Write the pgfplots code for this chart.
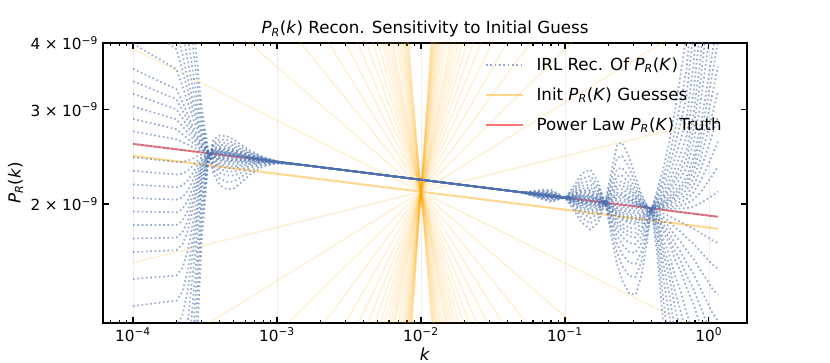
\documentclass[border=0pt]{standalone}
\usepackage{fontspec}
\setmainfont{DejaVu Sans}
\usepackage{pgfplots}
\usepackage{pgfplotstable}
\pgfplotsset{compat=1.18}

\definecolor{recblue}{RGB}{76,114,176}
\definecolor{guessorange}{RGB}{255,165,0}
\definecolor{truthred}{RGB}{255,60,60}

\newcommand{\PRk}[1]{\textit{P}\textsubscript{\textit{R}}(\textit{#1})}
\newcommand{\tenm}[1]{#1\hspace{0.3em}×\hspace{0.3em}10\textsuperscript{−9}}

\pgfplotsset{
  guess/.style={guessorange, opacity=0.16, line width=1.1pt, forget plot},
  recon/.style={recblue, opacity=0.6, line width=1.2pt, dash pattern=on 1.2pt off 1.9pt},
  truth/.style={truthred, opacity=0.7, line width=1.4pt},
}

% IRL reconstructions, one column per initial guess (n = truth + m/10)
\pgfplotstableread{
k n32 n25 n19 n15 n12 n10 n8 n6 n5 n4 n3 n2 n1 z0 p1 p2 p3 p4 p5 p6 p7 p8 p10 p12 p14 p17 p21 p26 p32 p40
1e-4 5e-9 5e-9 5e-9 5e-9 4.95e-9 4.44e-9 3.987e-9 3.58e-9 3.392e-9 3.214e-9 3.045e-9 2.885e-9 2.734e-9 2.59e-9 2.444e-9 2.306e-9 2.175e-9 2.052e-9 1.937e-9 1.827e-9 1.724e-9 1.626e-9 1.448e-9 1.289e-9 1.147e-9 0.96e-9 8e-10 8e-10 8e-10 8e-10
2e-4 5e-9 5e-9 5e-9 4.831e-9 4.245e-9 3.896e-9 3.574e-9 3.278e-9 3.14e-9 3.007e-9 2.88e-9 2.759e-9 2.642e-9 2.531e-9 2.397e-9 2.27e-9 2.15e-9 2.037e-9 1.929e-9 1.827e-9 1.73e-9 1.639e-9 1.47e-9 1.319e-9 1.183e-9 1.005e-9 0.809e-9 8e-10 8e-10 8e-10
2.2e-4 5e-9 5e-9 4.856e-9 4.23e-9 3.816e-9 3.561e-9 3.323e-9 3.102e-9 2.997e-9 2.895e-9 2.797e-9 2.702e-9 2.611e-9 2.522e-9 2.397e-9 2.278e-9 2.165e-9 2.058e-9 1.956e-9 1.859e-9 1.767e-9 1.679e-9 1.517e-9 1.37e-9 1.238e-9 1.062e-9 0.867e-9 8e-10 8e-10 8e-10
2.4e-4 5e-9 4.802e-9 4.112e-9 3.709e-9 3.432e-9 3.259e-9 3.094e-9 2.938e-9 2.863e-9 2.79e-9 2.719e-9 2.649e-9 2.582e-9 2.516e-9 2.41e-9 2.308e-9 2.211e-9 2.117e-9 2.028e-9 1.942e-9 1.86e-9 1.782e-9 1.635e-9 1.5e-9 1.376e-9 1.209e-9 1.017e-9 0.82e-9 8e-10 8e-10
2.6e-4 4.476e-9 3.945e-9 3.538e-9 3.291e-9 3.117e-9 3.006e-9 2.899e-9 2.796e-9 2.746e-9 2.697e-9 2.648e-9 2.601e-9 2.554e-9 2.508e-9 2.431e-9 2.357e-9 2.285e-9 2.215e-9 2.148e-9 2.082e-9 2.018e-9 1.957e-9 1.839e-9 1.728e-9 1.624e-9 1.479e-9 1.307e-9 1.119e-9 0.929e-9 8e-10
2.8e-4 3.633e-9 3.348e-9 3.122e-9 2.98e-9 2.878e-9 2.812e-9 2.747e-9 2.684e-9 2.653e-9 2.622e-9 2.592e-9 2.562e-9 2.532e-9 2.503e-9 2.455e-9 2.408e-9 2.361e-9 2.316e-9 2.271e-9 2.228e-9 2.185e-9 2.143e-9 2.061e-9 1.983e-9 1.908e-9 1.8e-9 1.665e-9 1.511e-9 1.345e-9 1.152e-9
3e-4 3.028e-9 2.903e-9 2.8e-9 2.733e-9 2.684e-9 2.652e-9 2.62e-9 2.588e-9 2.573e-9 2.557e-9 2.542e-9 2.527e-9 2.511e-9 2.496e-9 2.473e-9 2.449e-9 2.426e-9 2.403e-9 2.381e-9 2.358e-9 2.336e-9 2.314e-9 2.27e-9 2.228e-9 2.186e-9 2.125e-9 2.045e-9 1.951e-9 1.843e-9 1.708e-9
3.3e-4 2.558e-9 2.542e-9 2.53e-9 2.521e-9 2.515e-9 2.51e-9 2.506e-9 2.502e-9 2.5e-9 2.498e-9 2.495e-9 2.493e-9 2.491e-9 2.489e-9 2.485e-9 2.481e-9 2.476e-9 2.472e-9 2.468e-9 2.464e-9 2.459e-9 2.455e-9 2.447e-9 2.438e-9 2.43e-9 2.417e-9 2.4e-9 2.38e-9 2.355e-9 2.323e-9
3.6e-4 2.284e-9 2.326e-9 2.362e-9 2.387e-9 2.405e-9 2.418e-9 2.43e-9 2.444e-9 2.449e-9 2.456e-9 2.462e-9 2.468e-9 2.475e-9 2.481e-9 2.485e-9 2.489e-9 2.492e-9 2.496e-9 2.5e-9 2.504e-9 2.507e-9 2.511e-9 2.519e-9 2.527e-9 2.534e-9 2.546e-9 2.561e-9 2.581e-9 2.604e-9 2.636e-9
4e-4 2.169e-9 2.232e-9 2.288e-9 2.325e-9 2.354e-9 2.373e-9 2.393e-9 2.413e-9 2.423e-9 2.432e-9 2.442e-9 2.452e-9 2.463e-9 2.473e-9 2.478e-9 2.483e-9 2.488e-9 2.493e-9 2.498e-9 2.503e-9 2.508e-9 2.514e-9 2.524e-9 2.535e-9 2.545e-9 2.561e-9 2.583e-9 2.609e-9 2.642e-9 2.686e-9
4.5e-4 2.131e-9 2.199e-9 2.26e-9 2.301e-9 2.333e-9 2.354e-9 2.376e-9 2.397e-9 2.408e-9 2.419e-9 2.43e-9 2.441e-9 2.452e-9 2.463e-9 2.468e-9 2.473e-9 2.478e-9 2.484e-9 2.489e-9 2.494e-9 2.499e-9 2.504e-9 2.515e-9 2.525e-9 2.536e-9 2.551e-9 2.572e-9 2.599e-9 2.632e-9 2.676e-9
5e-4 2.137e-9 2.203e-9 2.261e-9 2.3e-9 2.33e-9 2.35e-9 2.371e-9 2.391e-9 2.401e-9 2.412e-9 2.422e-9 2.432e-9 2.443e-9 2.453e-9 2.458e-9 2.462e-9 2.467e-9 2.471e-9 2.476e-9 2.48e-9 2.485e-9 2.489e-9 2.498e-9 2.507e-9 2.516e-9 2.53e-9 2.549e-9 2.572e-9 2.6e-9 2.638e-9
5.6e-4 2.19e-9 2.243e-9 2.29e-9 2.322e-9 2.346e-9 2.362e-9 2.378e-9 2.395e-9 2.403e-9 2.412e-9 2.42e-9 2.428e-9 2.437e-9 2.445e-9 2.448e-9 2.452e-9 2.455e-9 2.459e-9 2.462e-9 2.465e-9 2.469e-9 2.472e-9 2.479e-9 2.486e-9 2.493e-9 2.503e-9 2.517e-9 2.534e-9 2.555e-9 2.584e-9
6.5e-4 2.27e-9 2.305e-9 2.335e-9 2.355e-9 2.371e-9 2.38e-9 2.391e-9 2.401e-9 2.406e-9 2.412e-9 2.417e-9 2.422e-9 2.427e-9 2.432e-9 2.434e-9 2.437e-9 2.439e-9 2.441e-9 2.443e-9 2.445e-9 2.447e-9 2.449e-9 2.453e-9 2.458e-9 2.462e-9 2.468e-9 2.477e-9 2.488e-9 2.5e-9 2.518e-9
8e-4 2.35e-9 2.364e-9 2.377e-9 2.385e-9 2.391e-9 2.395e-9 2.399e-9 2.404e-9 2.406e-9 2.408e-9 2.41e-9 2.412e-9 2.414e-9 2.416e-9 2.417e-9 2.418e-9 2.418e-9 2.419e-9 2.42e-9 2.421e-9 2.422e-9 2.423e-9 2.424e-9 2.426e-9 2.428e-9 2.43e-9 2.433e-9 2.438e-9 2.443e-9 2.449e-9
1e-3 2.38e-9 2.384e-9 2.387e-9 2.389e-9 2.391e-9 2.392e-9 2.393e-9 2.394e-9 2.394e-9 2.395e-9 2.395e-9 2.396e-9 2.396e-9 2.397e-9 2.397e-9 2.398e-9 2.398e-9 2.398e-9 2.398e-9 2.398e-9 2.398e-9 2.399e-9 2.399e-9 2.4e-9 2.4e-9 2.401e-9 2.401e-9 2.402e-9 2.404e-9 2.405e-9
1.5e-3 2.366e-9 2.366e-9 2.366e-9 2.366e-9 2.366e-9 2.366e-9 2.366e-9 2.366e-9 2.366e-9 2.366e-9 2.366e-9 2.366e-9 2.366e-9 2.366e-9 2.366e-9 2.366e-9 2.366e-9 2.366e-9 2.366e-9 2.366e-9 2.366e-9 2.366e-9 2.366e-9 2.366e-9 2.366e-9 2.366e-9 2.366e-9 2.366e-9 2.366e-9 2.366e-9
0.05 2.103e-9 2.103e-9 2.103e-9 2.103e-9 2.103e-9 2.103e-9 2.103e-9 2.103e-9 2.103e-9 2.103e-9 2.103e-9 2.103e-9 2.103e-9 2.103e-9 2.103e-9 2.103e-9 2.103e-9 2.103e-9 2.103e-9 2.103e-9 2.103e-9 2.103e-9 2.103e-9 2.103e-9 2.103e-9 2.103e-9 2.103e-9 2.103e-9 2.103e-9 2.103e-9
0.07 2.126e-9 2.116e-9 2.107e-9 2.102e-9 2.097e-9 2.094e-9 2.092e-9 2.089e-9 2.087e-9 2.086e-9 2.084e-9 2.083e-9 2.081e-9 2.08e-9 2.079e-9 2.078e-9 2.077e-9 2.076e-9 2.075e-9 2.074e-9 2.072e-9 2.071e-9 2.069e-9 2.067e-9 2.065e-9 2.062e-9 2.058e-9 2.052e-9 2.046e-9 2.038e-9
0.08 2.125e-9 2.113e-9 2.103e-9 2.096e-9 2.091e-9 2.088e-9 2.085e-9 2.081e-9 2.079e-9 2.078e-9 2.076e-9 2.074e-9 2.073e-9 2.071e-9 2.07e-9 2.068e-9 2.067e-9 2.066e-9 2.064e-9 2.063e-9 2.062e-9 2.06e-9 2.058e-9 2.055e-9 2.052e-9 2.048e-9 2.043e-9 2.036e-9 2.028e-9 2.017e-9
0.1 2.055e-9 2.055e-9 2.055e-9 2.055e-9 2.055e-9 2.055e-9 2.055e-9 2.055e-9 2.055e-9 2.055e-9 2.055e-9 2.055e-9 2.055e-9 2.055e-9 2.055e-9 2.055e-9 2.055e-9 2.055e-9 2.055e-9 2.055e-9 2.055e-9 2.055e-9 2.055e-9 2.055e-9 2.055e-9 2.055e-9 2.055e-9 2.055e-9 2.055e-9 2.055e-9
0.115 1.95e-9 1.97e-9 1.988e-9 2e-9 2.009e-9 2.015e-9 2.021e-9 2.028e-9 2.031e-9 2.034e-9 2.037e-9 2.04e-9 2.043e-9 2.046e-9 2.049e-9 2.051e-9 2.054e-9 2.057e-9 2.059e-9 2.062e-9 2.065e-9 2.067e-9 2.072e-9 2.078e-9 2.083e-9 2.091e-9 2.102e-9 2.116e-9 2.132e-9 2.155e-9
0.13 1.85e-9 1.889e-9 1.924e-9 1.947e-9 1.965e-9 1.976e-9 1.988e-9 2e-9 2.006e-9 2.013e-9 2.019e-9 2.025e-9 2.031e-9 2.037e-9 2.043e-9 2.048e-9 2.054e-9 2.06e-9 2.066e-9 2.072e-9 2.077e-9 2.083e-9 2.095e-9 2.107e-9 2.118e-9 2.136e-9 2.16e-9 2.191e-9 2.228e-9 2.279e-9
0.15 1.79e-9 1.84e-9 1.883e-9 1.912e-9 1.935e-9 1.95e-9 1.965e-9 1.98e-9 1.988e-9 1.996e-9 2.004e-9 2.011e-9 2.019e-9 2.027e-9 2.034e-9 2.041e-9 2.048e-9 2.054e-9 2.061e-9 2.068e-9 2.075e-9 2.082e-9 2.096e-9 2.11e-9 2.125e-9 2.146e-9 2.175e-9 2.212e-9 2.257e-9 2.319e-9
0.17 1.846e-9 1.882e-9 1.914e-9 1.936e-9 1.952e-9 1.963e-9 1.974e-9 1.985e-9 1.991e-9 1.996e-9 2.002e-9 2.008e-9 2.013e-9 2.019e-9 2.023e-9 2.028e-9 2.032e-9 2.036e-9 2.041e-9 2.045e-9 2.05e-9 2.054e-9 2.063e-9 2.072e-9 2.081e-9 2.094e-9 2.112e-9 2.135e-9 2.163e-9 2.201e-9
0.19 2.011e-9 2.011e-9 2.011e-9 2.011e-9 2.011e-9 2.011e-9 2.011e-9 2.011e-9 2.011e-9 2.011e-9 2.011e-9 2.011e-9 2.011e-9 2.011e-9 2.011e-9 2.011e-9 2.011e-9 2.011e-9 2.011e-9 2.011e-9 2.011e-9 2.011e-9 2.011e-9 2.011e-9 2.011e-9 2.011e-9 2.011e-9 2.011e-9 2.011e-9 2.011e-9
0.21 2.301e-9 2.233e-9 2.176e-9 2.139e-9 2.111e-9 2.093e-9 2.075e-9 2.058e-9 2.049e-9 2.04e-9 2.031e-9 2.022e-9 2.014e-9 2.005e-9 1.998e-9 1.991e-9 1.984e-9 1.978e-9 1.971e-9 1.964e-9 1.957e-9 1.95e-9 1.937e-9 1.924e-9 1.91e-9 1.891e-9 1.865e-9 1.833e-9 1.795e-9 1.747e-9
0.23 2.58e-9 2.44e-9 2.326e-9 2.253e-9 2.2e-9 2.165e-9 2.131e-9 2.097e-9 2.08e-9 2.064e-9 2.047e-9 2.031e-9 2.015e-9 1.999e-9 1.986e-9 1.973e-9 1.961e-9 1.948e-9 1.935e-9 1.923e-9 1.911e-9 1.898e-9 1.874e-9 1.85e-9 1.826e-9 1.791e-9 1.745e-9 1.689e-9 1.625e-9 1.543e-9
0.25 2.605e-9 2.456e-9 2.336e-9 2.259e-9 2.203e-9 2.167e-9 2.131e-9 2.096e-9 2.078e-9 2.061e-9 2.044e-9 2.027e-9 2.01e-9 1.993e-9 1.977e-9 1.961e-9 1.945e-9 1.929e-9 1.913e-9 1.897e-9 1.882e-9 1.867e-9 1.836e-9 1.806e-9 1.777e-9 1.734e-9 1.678e-9 1.611e-9 1.533e-9 1.437e-9
0.28 2.442e-9 2.334e-9 2.245e-9 2.188e-9 2.146e-9 2.119e-9 2.091e-9 2.065e-9 2.051e-9 2.038e-9 2.025e-9 2.012e-9 1.999e-9 1.986e-9 1.967e-9 1.949e-9 1.93e-9 1.912e-9 1.894e-9 1.876e-9 1.858e-9 1.841e-9 1.806e-9 1.772e-9 1.739e-9 1.69e-9 1.627e-9 1.552e-9 1.466e-9 1.359e-9
0.31 2.241e-9 2.181e-9 2.13e-9 2.098e-9 2.073e-9 2.057e-9 2.041e-9 2.026e-9 2.018e-9 2.01e-9 2.002e-9 1.994e-9 1.987e-9 1.979e-9 1.96e-9 1.942e-9 1.923e-9 1.905e-9 1.887e-9 1.87e-9 1.852e-9 1.834e-9 1.8e-9 1.766e-9 1.733e-9 1.684e-9 1.621e-9 1.546e-9 1.461e-9 1.354e-9
0.34 2.085e-9 2.06e-9 2.039e-9 2.025e-9 2.014e-9 2.007e-9 2e-9 1.994e-9 1.99e-9 1.987e-9 1.983e-9 1.98e-9 1.976e-9 1.973e-9 1.959e-9 1.944e-9 1.93e-9 1.916e-9 1.902e-9 1.888e-9 1.874e-9 1.861e-9 1.834e-9 1.807e-9 1.781e-9 1.742e-9 1.692e-9 1.631e-9 1.561e-9 1.472e-9
0.37 1.994e-9 1.988e-9 1.983e-9 1.98e-9 1.977e-9 1.975e-9 1.974e-9 1.972e-9 1.971e-9 1.97e-9 1.97e-9 1.969e-9 1.968e-9 1.967e-9 1.959e-9 1.952e-9 1.944e-9 1.937e-9 1.929e-9 1.922e-9 1.914e-9 1.907e-9 1.892e-9 1.878e-9 1.863e-9 1.841e-9 1.813e-9 1.778e-9 1.737e-9 1.684e-9
0.4 1.935e-9 1.941e-9 1.946e-9 1.949e-9 1.952e-9 1.954e-9 1.955e-9 1.957e-9 1.958e-9 1.959e-9 1.959e-9 1.96e-9 1.961e-9 1.962e-9 1.962e-9 1.962e-9 1.962e-9 1.962e-9 1.962e-9 1.962e-9 1.962e-9 1.962e-9 1.962e-9 1.962e-9 1.962e-9 1.962e-9 1.962e-9 1.962e-9 1.962e-9 1.962e-9
0.44 1.59e-9 1.664e-9 1.73e-9 1.775e-9 1.81e-9 1.834e-9 1.857e-9 1.882e-9 1.894e-9 1.906e-9 1.918e-9 1.931e-9 1.943e-9 1.956e-9 1.96e-9 1.964e-9 1.969e-9 1.973e-9 1.977e-9 1.981e-9 1.986e-9 1.99e-9 1.999e-9 2.007e-9 2.016e-9 2.029e-9 2.047e-9 2.069e-9 2.096e-9 2.132e-9
0.48 1.203e-9 1.338e-9 1.464e-9 1.555e-9 1.627e-9 1.677e-9 1.728e-9 1.781e-9 1.808e-9 1.836e-9 1.864e-9 1.892e-9 1.921e-9 1.95e-9 1.958e-9 1.967e-9 1.975e-9 1.984e-9 1.993e-9 2.001e-9 2.01e-9 2.018e-9 2.036e-9 2.053e-9 2.071e-9 2.098e-9 2.135e-9 2.181e-9 2.238e-9 2.317e-9
0.53 0.911e-9 1.074e-9 1.239e-9 1.362e-9 1.463e-9 1.534e-9 1.608e-9 1.686e-9 1.727e-9 1.768e-9 1.811e-9 1.854e-9 1.898e-9 1.944e-9 1.958e-9 1.973e-9 1.987e-9 2.002e-9 2.017e-9 2.031e-9 2.046e-9 2.061e-9 2.092e-9 2.123e-9 2.154e-9 2.202e-9 2.267e-9 2.352e-9 2.458e-9 2.606e-9
0.58 8e-10 0.818e-9 1.007e-9 1.155e-9 1.281e-9 1.373e-9 1.471e-9 1.576e-9 1.631e-9 1.688e-9 1.748e-9 1.809e-9 1.872e-9 1.938e-9 1.959e-9 1.98e-9 2.002e-9 2.023e-9 2.045e-9 2.067e-9 2.09e-9 2.113e-9 2.159e-9 2.206e-9 2.254e-9 2.327e-9 2.43e-9 2.565e-9 2.736e-9 2.983e-9
0.64 8e-10 8e-10 0.851e-9 1.012e-9 1.151e-9 1.255e-9 1.368e-9 1.491e-9 1.557e-9 1.625e-9 1.697e-9 1.772e-9 1.85e-9 1.931e-9 1.962e-9 1.99e-9 2.02e-9 2.051e-9 2.082e-9 2.114e-9 2.146e-9 2.179e-9 2.245e-9 2.314e-9 2.385e-9 2.495e-9 2.651e-9 2.859e-9 3.129e-9 3.53e-9
0.7 8e-10 8e-10 8e-10 0.858e-9 1.009e-9 1.124e-9 1.251e-9 1.394e-9 1.471e-9 1.552e-9 1.638e-9 1.729e-9 1.825e-9 1.926e-9 1.964e-9 2.002e-9 2.041e-9 2.081e-9 2.122e-9 2.164e-9 2.206e-9 2.249e-9 2.338e-9 2.431e-9 2.527e-9 2.678e-9 2.894e-9 3.189e-9 3.581e-9 4.185e-9
0.78 8e-10 8e-10 8e-10 8e-10 0.883e-9 1.005e-9 1.144e-9 1.302e-9 1.389e-9 1.482e-9 1.581e-9 1.686e-9 1.799e-9 1.919e-9 1.978e-9 2.038e-9 2.101e-9 2.165e-9 2.232e-9 2.3e-9 2.37e-9 2.443e-9 2.595e-9 2.756e-9 2.927e-9 3.205e-9 3.616e-9 4.203e-9 5e-9 5e-9
0.86 8e-10 8e-10 8e-10 8e-10 8e-10 0.88e-9 1.027e-9 1.2e-9 1.297e-9 1.402e-9 1.515e-9 1.637e-9 1.769e-9 1.912e-9 2.001e-9 2.093e-9 2.19e-9 2.291e-9 2.397e-9 2.508e-9 2.625e-9 2.746e-9 3.006e-9 3.291e-9 3.604e-9 4.126e-9 4.948e-9 5e-9 5e-9 5e-9
0.95 8e-10 8e-10 8e-10 8e-10 8e-10 8e-10 0.924e-9 1.107e-9 1.212e-9 1.327e-9 1.453e-9 1.59e-9 1.741e-9 1.906e-9 2.033e-9 2.169e-9 2.314e-9 2.469e-9 2.633e-9 2.809e-9 2.997e-9 3.197e-9 3.638e-9 4.141e-9 4.712e-9 5e-9 5e-9 5e-9 5e-9 5e-9
1.05 8e-10 8e-10 8e-10 8e-10 8e-10 8e-10 0.83e-9 1.021e-9 1.132e-9 1.255e-9 1.392e-9 1.544e-9 1.712e-9 1.899e-9 2.07e-9 2.256e-9 2.459e-9 2.681e-9 2.922e-9 3.185e-9 3.472e-9 3.784e-9 4.497e-9 5e-9 5e-9 5e-9 5e-9 5e-9 5e-9 5e-9
1.155 8e-10 8e-10 8e-10 8e-10 8e-10 8e-10 8e-10 0.966e-9 1.081e-9 1.209e-9 1.353e-9 1.513e-9 1.692e-9 1.893e-9 2.108e-9 2.348e-9 2.616e-9 2.913e-9 3.245e-9 3.614e-9 4.025e-9 4.484e-9 5e-9 5e-9 5e-9 5e-9 5e-9 5e-9 5e-9 5e-9
}\recon

\begin{document}
\begin{tikzpicture}
\path[use as bounding box] (-74.2pt,-28.8pt) rectangle (523.4pt,232.5pt);
\begin{axis}[
  at={(0pt,0pt)}, anchor=south west,
  scale only axis, width=463.6pt, height=201.6pt,
  xmode=log, ymode=log,
  xmin=6.19e-5, xmax=1.837,
  ymin=1.198e-9, ymax=4e-9,
  xtick={1e-4,1e-3,1e-2,1e-1,1},
  xticklabels={10\textsuperscript{−4},10\textsuperscript{−3},10\textsuperscript{−2},10\textsuperscript{−1},10\textsuperscript{0}},
  minor xtick={7e-5,8e-5,9e-5,2e-4,3e-4,4e-4,5e-4,6e-4,7e-4,8e-4,9e-4,2e-3,3e-3,4e-3,5e-3,6e-3,7e-3,8e-3,9e-3,0.02,0.03,0.04,0.05,0.06,0.07,0.08,0.09,0.2,0.3,0.4,0.5,0.6,0.7,0.8,0.9},
  ytick={2e-9,3e-9,4e-9},
  yticklabels={\tenm{2},\tenm{3},\tenm{4}},
  yminorticks=false,
  tick align=inside,
  major tick length=4pt, minor tick length=2.2pt,
  every tick/.style={black, line width=0.8pt},
  axis line style={black, line width=1.2pt},
  xmajorgrids, grid style={black!7, line width=0.6pt},
  ticklabel style={font=\fontsize{11}{13}\selectfont},
  title={\PRk{k} Recon. Sensitivity to Initial Guess},
  title style={font=\fontsize{12}{14}\selectfont, at={(0.5,1.003)}, anchor=base, yshift=0pt},
  xlabel={\textit{k}},
  xlabel style={font=\fontsize{12}{14}\selectfont, at={(0.5,-0.134)}, anchor=base},
  ylabel={\PRk{k}},
  ylabel style={font=\fontsize{12}{14}\selectfont, at={(-0.136,0.5)}, anchor=center},
  legend style={at={(0.593,0.964)}, anchor=north west, draw=none, fill=none,
    font=\fontsize{12}{14}\selectfont, row sep=5pt, inner sep=0pt, nodes={inner sep=3pt},
    /tikz/every odd column/.append style={column sep=6pt}},
  legend cell align=left,
  legend image code/.code={\draw[#1] (0pt,0pt) -- (26.6pt,0pt);},
]
% initial guesses: power laws through the pivot, slope steps of 0.1
\addplot[guess] coordinates {(7.656e-3,5e-9)(1.349e-2,8e-10)};
\addplot[guess] coordinates {(7.522e-3,5e-9)(1.376e-2,8e-10)};
\addplot[guess] coordinates {(7.373e-3,5e-9)(1.408e-2,8e-10)};
\addplot[guess] coordinates {(7.204e-3,5e-9)(1.445e-2,8e-10)};
\addplot[guess] coordinates {(7.012e-3,5e-9)(1.489e-2,8e-10)};
\addplot[guess] coordinates {(6.793e-3,5e-9)(1.543e-2,8e-10)};
\addplot[guess] coordinates {(6.54e-3,5e-9)(1.61e-2,8e-10)};
\addplot[guess] coordinates {(6.243e-3,5e-9)(1.696e-2,8e-10)};
\addplot[guess] coordinates {(5.894e-3,5e-9)(1.81e-2,8e-10)};
\addplot[guess] coordinates {(5.475e-3,5e-9)(1.966e-2,8e-10)};
\addplot[guess] coordinates {(5.233e-3,5e-9)(2.068e-2,8e-10)};
\addplot[guess] coordinates {(4.965e-3,5e-9)(2.194e-2,8e-10)};
\addplot[guess] coordinates {(4.667e-3,5e-9)(2.351e-2,8e-10)};
\addplot[guess] coordinates {(4.336e-3,5e-9)(2.554e-2,8e-10)};
\addplot[guess] coordinates {(3.965e-3,5e-9)(2.823e-2,8e-10)};
\addplot[guess] coordinates {(3.548e-3,5e-9)(3.198e-2,8e-10)};
\addplot[guess] coordinates {(3.08e-3,5e-9)(3.747e-2,8e-10)};
\addplot[guess] coordinates {(2.558e-3,5e-9)(4.616e-2,8e-10)};
\addplot[guess] coordinates {(1.981e-3,5e-9)(6.148e-2,8e-10)};
\addplot[guess] coordinates {(1.364e-3,5e-9)(9.347e-2,8e-10)};
\addplot[guess] coordinates {(7.503e-4,5e-9)(0.1827,8e-10)};
\addplot[guess] coordinates {(2.475e-4,5e-9)(0.634,8e-10)};
\addplot[guess] coordinates {(1e-4,3.898e-9)(1.155,1.118e-9)};
\addplot[guess] coordinates {(1e-4,1.552e-9)(1.155,2.891e-9)};
\addplot[guess] coordinates {(1e-4,0.979e-9)(1.155,4.648e-9)};
\addplot[guess] coordinates {(2.637e-4,8e-10)(0.2556,5e-9)};
\addplot[guess] coordinates {(7.111e-4,8e-10)(0.1056,5e-9)};
\addplot[guess] coordinates {(1.253e-3,8e-10)(6.369e-2,5e-9)};
\addplot[guess] coordinates {(1.808e-3,8e-10)(4.594e-2,5e-9)};
\addplot[guess] coordinates {(2.337e-3,8e-10)(3.654e-2,5e-9)};
\addplot[guess] coordinates {(2.825e-3,8e-10)(3.086e-2,5e-9)};
\addplot[guess] coordinates {(3.269e-3,8e-10)(2.71e-2,5e-9)};
\addplot[guess] coordinates {(3.67e-3,8e-10)(2.444e-2,5e-9)};
\addplot[guess] coordinates {(4.032e-3,8e-10)(2.248e-2,5e-9)};
\addplot[guess] coordinates {(4.358e-3,8e-10)(2.097e-2,5e-9)};
\addplot[guess] coordinates {(4.653e-3,8e-10)(1.978e-2,5e-9)};
\addplot[guess] coordinates {(4.922e-3,8e-10)(1.882e-2,5e-9)};
\addplot[guess] coordinates {(5.387e-3,8e-10)(1.736e-2,5e-9)};
\addplot[guess] coordinates {(5.778e-3,8e-10)(1.631e-2,5e-9)};
\addplot[guess] coordinates {(6.11e-3,8e-10)(1.552e-2,5e-9)};
\addplot[guess] coordinates {(6.394e-3,8e-10)(1.49e-2,5e-9)};
\addplot[guess] coordinates {(6.64e-3,8e-10)(1.441e-2,5e-9)};
\addplot[guess] coordinates {(6.856e-3,8e-10)(1.4e-2,5e-9)};
\addplot[guess] coordinates {(7.046e-3,8e-10)(1.366e-2,5e-9)};
\addplot[guess] coordinates {(7.214e-3,8e-10)(1.338e-2,5e-9)};
\addplot[guess] coordinates {(7.364e-3,8e-10)(1.314e-2,5e-9)};
\addplot[guess] coordinates {(7.499e-3,8e-10)(1.293e-2,5e-9)};
\addplot[guess] coordinates {(7.621e-3,8e-10)(1.274e-2,5e-9)};
\addplot[guess] coordinates {(7.732e-3,8e-10)(1.258e-2,5e-9)};
\addplot[guess] coordinates {(7.833e-3,8e-10)(1.243e-2,5e-9)};
\addplot[guess, opacity=0.45, line width=1.4pt] coordinates {(1e-4,2.46e-9)(1.155,1.798e-9)};

% truth
\addplot[truth, forget plot] coordinates {(1e-4,2.59e-9)(1.155,1.893e-9)};

% reconstructions
\pgfplotsinvokeforeach{n32,n25,n19,n15,n12,n10,n8,n6,n5,n4,n3,n2,n1,z0,p1,p2,p3,p4,p5,p6,p7,p8,p10,p12,p14,p17,p21,p26,p32,p40}{
  \addplot[recon, forget plot] table[x=k, y=#1] {\recon};
}

\addlegendimage{recon}
\addlegendentry{IRL Rec. Of \PRk{K}}
\addlegendimage{guessorange, opacity=0.45, line width=1.4pt}
\addlegendentry{Init \PRk{K} Guesses}
\addlegendimage{truth}
\addlegendentry{Power Law \PRk{K} Truth}
\end{axis}
\end{tikzpicture}
\end{document}
